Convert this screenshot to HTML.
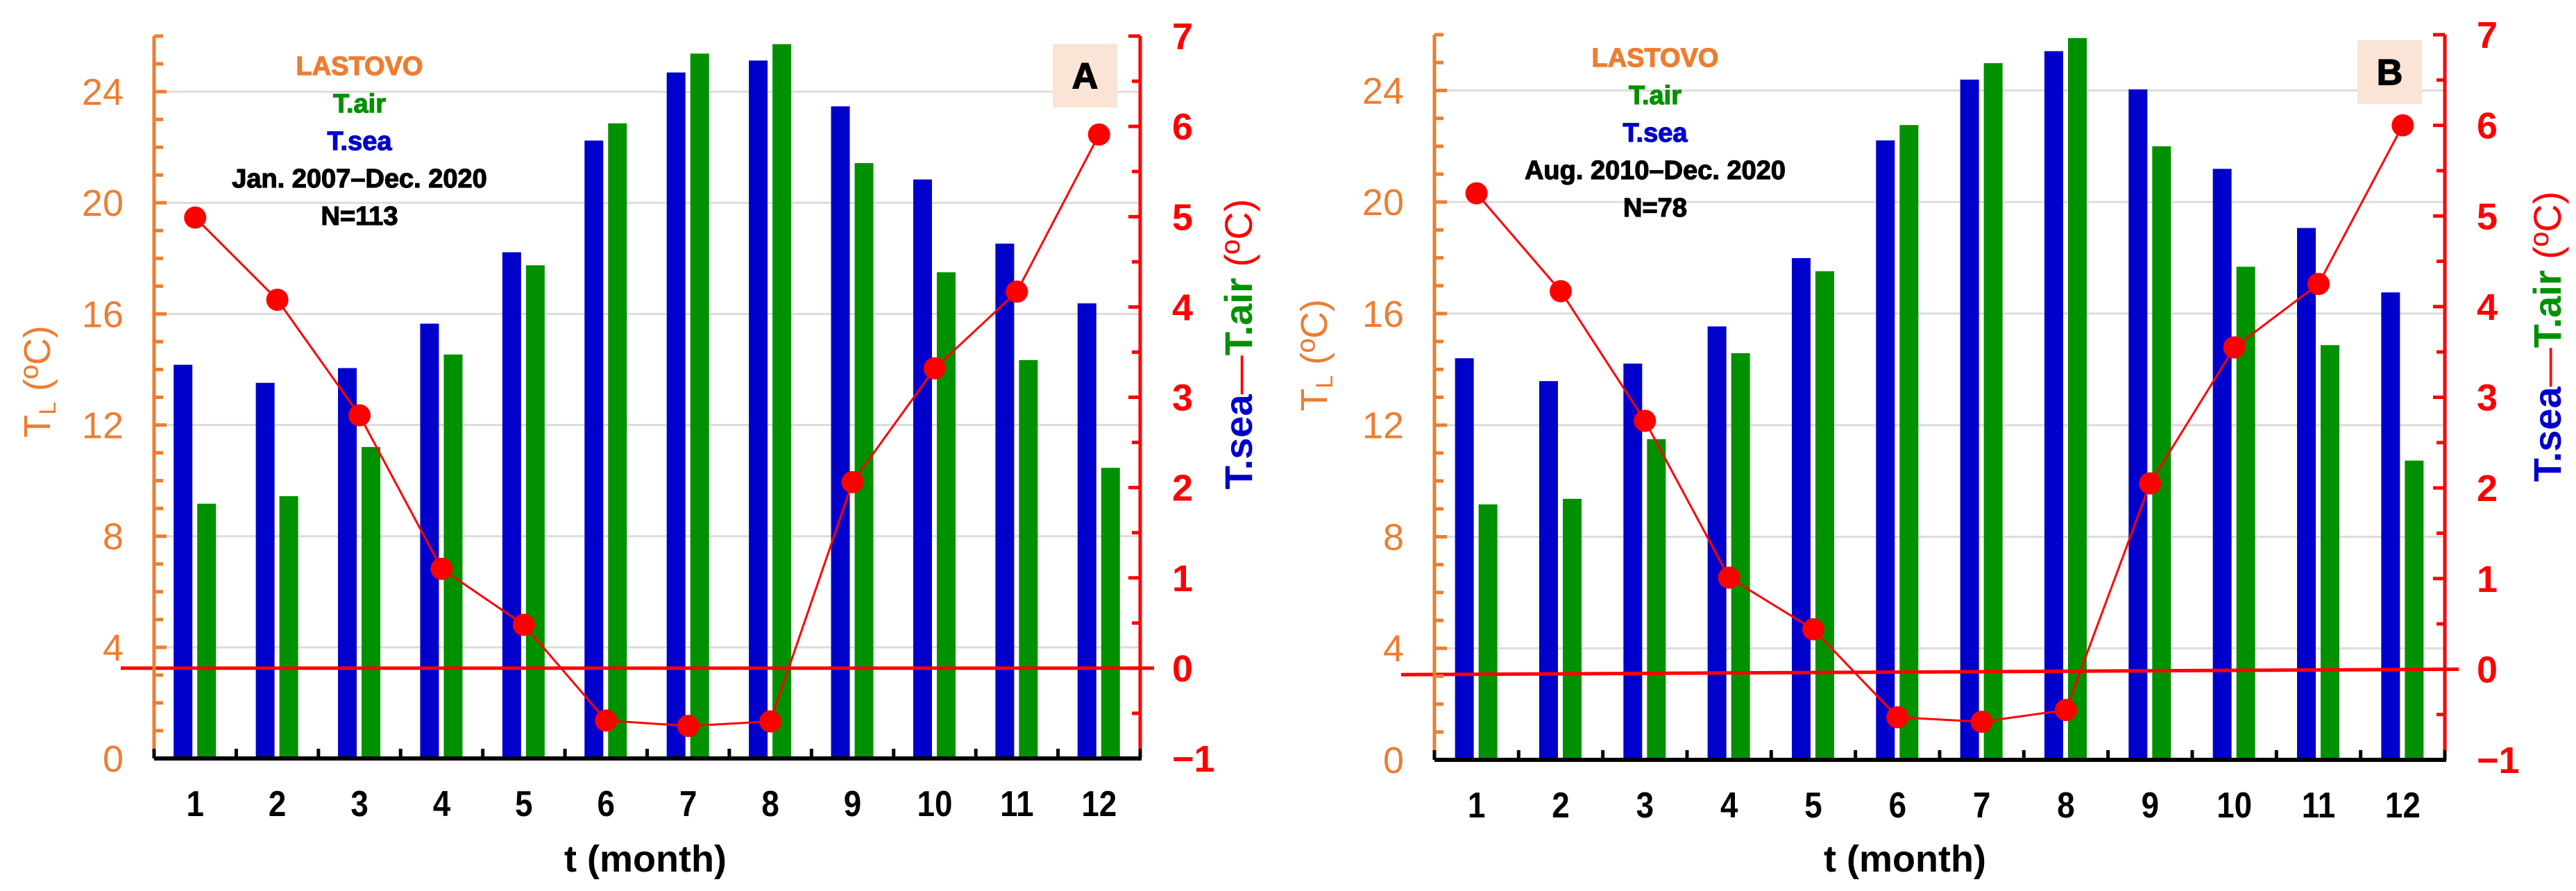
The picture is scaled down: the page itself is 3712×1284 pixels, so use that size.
<!DOCTYPE html>
<html><head><meta charset="utf-8"><style>
html,body{margin:0;padding:0;background:#fff;}
svg{display:block;font-family:"Liberation Sans",Arial,sans-serif;}
</style></head><body>
<svg id="chart" width="3712" height="1284" viewBox="0 0 3712 1284" xmlns="http://www.w3.org/2000/svg"></svg>
<script>
const months = [1,2,3,4,5,6,7,8,9,10,11,12];
const leftTicks = [0,4,8,12,16,20,24];
const rightTicks = [-1,0,1,2,3,4,5,6,7];
const seaA = [14.17,13.52,14.05,15.65,18.22,22.24,24.69,25.12,23.47,20.84,18.53,16.38];
const airA = [9.17,9.44,11.21,14.54,17.75,22.86,25.37,25.71,21.43,17.5,14.34,10.46];
const diffA = [4.99,4.08,2.80,1.10,0.48,-0.58,-0.64,-0.59,2.06,3.32,4.17,5.91];
const seaB = [14.40,13.58,14.21,15.54,17.99,22.21,24.39,25.41,24.04,21.19,19.07,16.76];
const airB = [9.16,9.36,11.5,14.58,17.52,22.76,24.98,25.88,22.0,17.68,14.87,10.73];
const diffB = [5.25,4.17,2.74,1.01,0.44,-0.53,-0.58,-0.45,2.05,3.55,4.25,6.0];
const notesA = ["LASTOVO","T.air","T.sea","Jan. 2007\u2013Dec. 2020","N=113"];
const notesB = ["LASTOVO","T.air","T.sea","Aug. 2010\u2013Dec. 2020","N=78"];

const NS="http://www.w3.org/2000/svg";
const svg=document.getElementById('chart');
function mk(tag,attrs,parent){const e=document.createElementNS(NS,tag);for(const k in attrs)e.setAttribute(k,attrs[k]);(parent||svg).appendChild(e);return e;}

function panel(P, sea, air, diff, notes, letter){
  const g=mk('g',{});
  
  
  const band=(P.R-P.L)/12;
  const xc=i=>P.L+band*(i+0.5);
  const yL=v=>P.B-(P.B-P.T)*v/26;
  const yR=v=>P.B-(P.B-P.T)*(v+1)/8;
  // gridlines
  leftTicks.forEach(t=>{ if(t===0) return;
    const l=mk('line',{x1:P.L,x2:P.R,y1:yL(t),y2:yL(t),stroke:'#dcdcdc','stroke-width':3},g);
    
    
  });
  // bars
  months.forEach((m,i)=>{
    const c=xc(i);
    const b=mk('rect',{x:c-31,y:yL(sea[i]),width:27,height:P.B-yL(sea[i]),fill:'#0000cc'},g);
    
    
    const a=mk('rect',{x:c+3,y:yL(air[i]),width:27,height:P.B-yL(air[i]),fill:'#009100'},g);
    
    
  });
  // zero line
  const z=mk('line',{x1:P.L-48,x2:P.R+20,y1:yR(P.z0),y2:yR(P.z1),stroke:'#ff0000','stroke-width':5},g);
  
  
  // diff line
  const pts=months.map((m,i)=>xc(i)+','+yR(diff[i])).join(' ');
  const pl=mk('polyline',{points:pts,fill:'none',stroke:'#ff0000','stroke-width':3},g);
  
  
  months.forEach((m,i)=>{
    const d=mk('circle',{cx:xc(i),cy:yR(diff[i]),r:16,fill:'#ff0000'},g);
    
    
  });
  // left axis
  const la=mk('line',{x1:P.L,x2:P.L,y1:P.T,y2:P.B,stroke:'#ed7d31','stroke-width':5},g);
  
  
  for(let v=1;v<=26;v++){
    const tk=mk('line',{x1:P.L,x2:P.L+(v%4===0?18:13),y1:yL(v),y2:yL(v),stroke:'#ed7d31','stroke-width':5},g);
    
    
  }
  leftTicks.forEach(t=>{
    const tx=mk('text',{x:P.L-44,y:yL(t)+19,'text-anchor':'end','font-size':54,fill:'#ed7d31'},g);
    tx.textContent=t;
    
    
  });
  // right axis
  const ra=mk('line',{x1:P.R,x2:P.R,y1:P.T,y2:P.B,stroke:'#ff0000','stroke-width':5},g);
  
  
  for(let v=-0.5;v<=7;v+=0.5){
    const tk=mk('line',{x1:P.R,x2:P.R-(Number.isInteger(v)?17:12),y1:yR(v),y2:yR(v),stroke:'#ff0000','stroke-width':5},g);
    
    
  }
  rightTicks.forEach(t=>{
    const tx=mk('text',{x:P.R+46,y:yR(t)+19,'font-size':54,'font-weight':'bold',fill:'#ff0000'},g);
    tx.textContent=t<0?'\u2212'+(-t):t;
    
    
  });
  // bottom axis
  const ba=mk('line',{x1:P.L,x2:P.R+2,y1:P.B,y2:P.B,stroke:'#000','stroke-width':6},g);
  
  
  for(let i=0;i<=12;i++){
    const tk=mk('line',{x1:P.L+band*i,x2:P.L+band*i,y1:P.B,y2:P.B-14,stroke:'#000','stroke-width':5},g);
    
    
  }
  months.forEach((m,i)=>{
    const tx=mk('text',{x:xc(i),y:P.B+83,'text-anchor':'middle','font-size':52,'font-weight':'bold',fill:'#000',transform:`translate(${xc(i)},0) scale(0.88,1) translate(${-xc(i)},0)`},g);
    tx.textContent=m;
    
    
  });
  const xt=mk('text',{x:P.xt,y:1256,'text-anchor':'middle','font-size':54,'font-weight':'bold',fill:'#000'},g);
  xt.textContent='t (month)';
  
  
  // left title
  const lt=mk('text',{x:0,y:0,'text-anchor':'middle','font-size':54,fill:'#ed7d31',transform:`translate(${P.ltx},${P.lty}) rotate(-90)`},g);
  lt.innerHTML='T<tspan font-size="34" dy="8">L</tspan><tspan dy="-8"> (ºC)</tspan>';
  
  
  // right title
  const rt=mk('text',{x:0,y:0,'text-anchor':'middle','font-size':56,'font-weight':'bold',transform:`translate(${P.rtx},${P.rty}) rotate(-90)`},g);
  rt.innerHTML='<tspan fill="#0000cc">T.sea</tspan><tspan fill="#ff0000" font-weight="normal">\u2014</tspan><tspan fill="#009100">T.air</tspan><tspan fill="#ff0000" font-weight="normal"> (ºC)</tspan>';
  
  
  // notes
  const cols=['#ed7d31','#009100','#0000cc','#000','#000'];
  const nn=['station-label','air-legend','sea-legend','period-label','sample-count'];
  notes.forEach((s,i)=>{
    const tx=mk('text',{x:P.nx,y:P.ny+i*54,'text-anchor':'middle','font-size':38,'font-weight':'bold',fill:cols[i],stroke:cols[i],'stroke-width':1.2},g);
    tx.textContent=s;
    
    
  });
  // letter box
  const bx=mk('rect',{x:P.bx,y:P.by,width:93,height:92,fill:'#f9e4d6'},g);
  
  
  const lb=mk('text',{x:P.bx+46.5,y:P.by+64,'text-anchor':'middle','font-size':52,'font-weight':'bold',fill:'#000',stroke:'#000','stroke-width':1.5},g);
  lb.textContent=letter;
  
  
}
panel({L:222,R:1643,T:52,B:1093,z0:0,z1:0,xt:930,ltx:72,lty:550,rtx:1804,rty:496,nx:518,ny:108,bx:1517,by:63},seaA,airA,diffA,notesA,'A');
panel({L:2067,R:3523,T:50,B:1095,z0:-0.06,z1:0,xt:2745,ltx:1912,lty:512,rtx:3690,rty:485,nx:2385,ny:96,bx:3397,by:58},seaB,airB,diffB,notesB,'B');
</script>
</body></html>
